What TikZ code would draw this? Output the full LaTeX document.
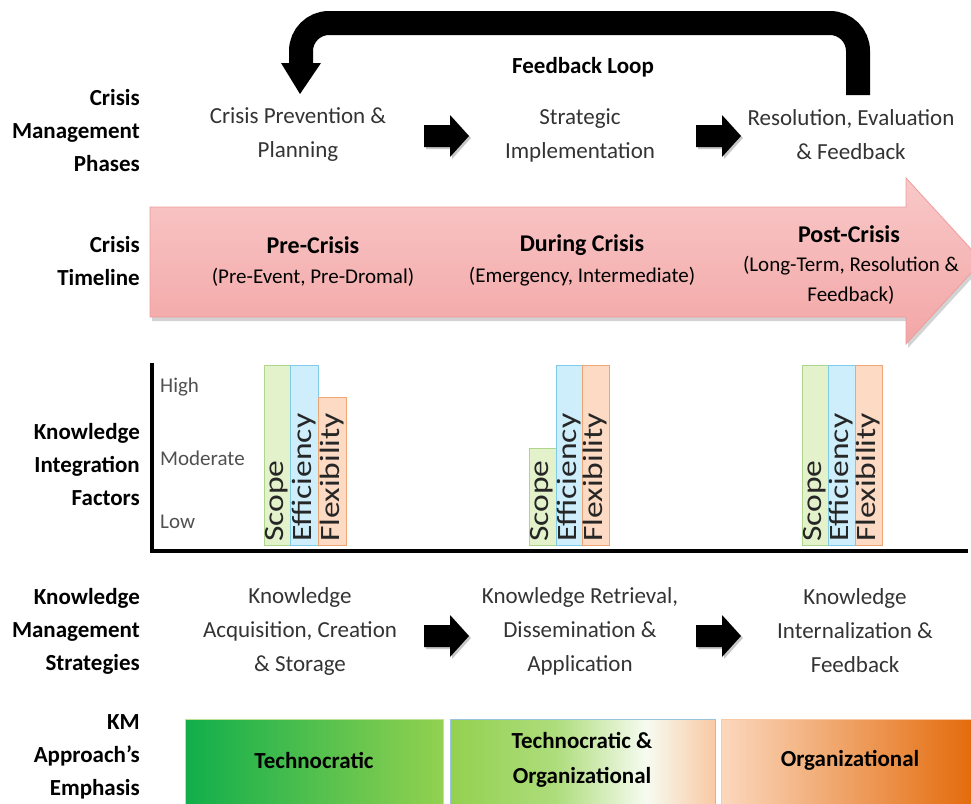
\documentclass[tikz,border=0pt]{standalone}
\usepackage{fontspec}
\setmainfont{Carlito}
\usetikzlibrary{shadows}

\definecolor{txtgray}{HTML}{333333}
\definecolor{levelgray}{HTML}{505050}
\definecolor{pinktop}{HTML}{F9C8C8}
\definecolor{pinkbot}{HTML}{F3A6A6}
\definecolor{pinkline}{HTML}{EE9C9C}
\definecolor{scopefill}{HTML}{E3F2CB}
\definecolor{scopeline}{HTML}{ADD68C}
\definecolor{efffill}{HTML}{CDEEFA}
\definecolor{effline}{HTML}{7FCBE8}
\definecolor{flexfill}{HTML}{FCDAC3}
\definecolor{flexline}{HTML}{F0A574}
\definecolor{gdark}{HTML}{10AE4B}
\definecolor{glight}{HTML}{93D150}
\definecolor{peach}{HTML}{F9C9A4}
\definecolor{peachlight}{HTML}{FBD8BE}
\definecolor{odark}{HTML}{E36A0A}
\definecolor{boxblue}{HTML}{9CC3DD}

% green -> white -> peach, for the mixed approach box
\pgfdeclarehorizontalshading{mixshade}{100bp}{%
  color(0bp)=(glight); color(25bp)=(glight); color(45bp)=(glight!75!white);
  color(62bp)=(white!92!glight); color(75bp)=(peach); color(100bp)=(peach)}

\begin{document}
\begin{tikzpicture}[x=1pt,y=-1pt,
  rowlabel/.style={anchor=east, align=right, inner sep=0,
    font=\fontsize{23}{33}\selectfont\bfseries},
  phase/.style={align=center, inner sep=0, text=txtgray,
    font=\fontsize{23}{34}\selectfont},
  timehead/.style={inner sep=0, font=\fontsize{24}{30}\selectfont\bfseries},
  timesub/.style={align=center, inner sep=0, font=\fontsize{21}{30}\selectfont},
  level/.style={anchor=west, inner sep=0, text=levelgray,
    font=\fontsize{21}{25}\selectfont},
  barlabel/.style={rotate=90, anchor=west, inner sep=0, text=black!85,
    font=\fontsize{28}{30}\selectfont},
  scopebar/.style={fill=scopefill, draw=scopeline, line width=1},
  effbar/.style={fill=efffill, draw=effline, line width=1},
  flexbar/.style={fill=flexfill, draw=flexline, line width=1},
  boxtext/.style={align=center, inner sep=0,
    font=\fontsize{23}{35}\selectfont\bfseries},
  blockarr/.pic={
    \fill[black!22] (-20,-9) -- (6,-9) -- (6,-19) -- (25,2) -- (6,23) -- (6,13) -- (-20,13) -- cycle;
    \fill[black] (-22,-11) -- (4,-11) -- (4,-21) -- (23,0) -- (4,21) -- (4,11) -- (-22,11) -- cycle;
  },
]
\useasboundingbox (0,0) rectangle (971,803);
\clip (0,0) rectangle (971,803);

% ---------- row labels ----------
\node[rowlabel] (lphase) at (140,131) {Crisis\\Management\\Phases};
\node[rowlabel] (ltime)  at (140,261) {Crisis\\Timeline};
\node[rowlabel] (lfact)  at (140,465) {Knowledge\\Integration\\Factors};
\node[rowlabel] (lstrat) at (140,631) {Knowledge\\Management\\Strategies};
\node[rowlabel] (lkm)    at (140,757) {KM\\Approach’s\\Emphasis};

% ---------- crisis management phases ----------
\node[phase] (p1) at (298,135) {Crisis Prevention \&\\Planning};
\node[phase] (p2) at (580,135) {Strategic\\Implementation};
\node[phase] (p3) at (851,135) {Resolution, Evaluation\\\& Feedback};
\pic at (446,136) {blockarr};
\pic at (718,136) {blockarr};

% feedback loop from the last phase back to the first
\coordinate (fbstart) at (858,95);
\coordinate (fbend)   at (301,66);
\draw[line width=24, rounded corners=28] (fbstart) -- (858,23) -- (301,23) -- (fbend);
\fill (281,63) -- (321,63) -- (300,94) -- cycle;
\node[font=\fontsize{23}{28}\selectfont\bfseries, inner sep=0] (fbl) at (583,67) {Feedback Loop};

% ---------- crisis timeline arrow ----------
\shade[top color=pinktop, bottom color=pinkbot, draw=pinkline, line width=0.8,
  drop shadow={opacity=0.35, shadow xshift=2pt, shadow yshift=-4pt}]
  (150,207) -- (906,207) -- (906,178) -- (982,261) -- (906,344) -- (906,317) -- (150,317) -- cycle;

\node[timehead] (pre)  at (313,245) {Pre-Crisis};
\node[timesub]  (pres) at (313,277) {(Pre-Event, Pre-Dromal)};
\node[timehead] (dur)  at (582,245) {During Crisis};
\node[timesub]  (durs) at (582,277) {(Emergency, Intermediate)};
\node[timehead] (post) at (849,234) {Post-Crisis};
\node[timesub]  (posts) at (851,280) {(Long-Term, Resolution \&\\Feedback)};

% ---------- knowledge integration factors chart ----------
\draw[line width=3.5] (152,363) -- (152,551) -- (968,551);
\node[level] (hi)  at (160,387) {High};
\node[level] (mod) at (160,458) {Moderate};
\node[level] (lo)  at (160,522) {Low};

% pre-crisis bars
\draw[scopebar] (264,365) rectangle (290,545);
\draw[effbar]   (290,365) rectangle (318,545);
\draw[flexbar]  (318,397) rectangle (346,545);
\node[barlabel] (sc1) at (277,542) {\scalebox{1.2}[1]{Scope}};
\node[barlabel] (ef1) at (304,542) {\scalebox{1.2}[1]{Efficiency}};
\node[barlabel] (fl1) at (332,542) {\scalebox{1.2}[1]{Flexibility}};

% during-crisis bars
\draw[scopebar] (529,448) rectangle (556,545);
\draw[effbar]   (556,365) rectangle (582,545);
\draw[flexbar]  (582,365) rectangle (609,545);
\node[barlabel] (sc2) at (542,542) {\scalebox{1.2}[1]{Scope}};
\node[barlabel] (ef2) at (569,542) {\scalebox{1.2}[1]{Efficiency}};
\node[barlabel] (fl2) at (595,542) {\scalebox{1.2}[1]{Flexibility}};

% post-crisis bars
\draw[scopebar] (802,365) rectangle (828,545);
\draw[effbar]   (828,365) rectangle (855,545);
\draw[flexbar]  (855,365) rectangle (882,545);
\node[barlabel] (sc3) at (815,542) {\scalebox{1.2}[1]{Scope}};
\node[barlabel] (ef3) at (841,542) {\scalebox{1.2}[1]{Efficiency}};
\node[barlabel] (fl3) at (868,542) {\scalebox{1.2}[1]{Flexibility}};

% ---------- knowledge management strategies ----------
\node[phase] (s1) at (300,631) {Knowledge\\Acquisition, Creation\\\& Storage};
\node[phase] (s2) at (580,631) {Knowledge Retrieval,\\Dissemination \&\\Application};
\node[phase] (s3) at (855,631) {Knowledge\\Internalization \&\\Feedback};
\pic at (446,636) {blockarr};
\pic at (718,636) {blockarr};

% ---------- KM approach emphasis ----------
\shade[left color=gdark, right color=glight, draw=glight!60!white, line width=0.8]
  (185,719) rectangle (443,806);
\shade[shading=mixshade, draw=boxblue, line width=1]
  (450,719) rectangle (715,806);
\shade[left color=peachlight, right color=odark, draw=peach, line width=0.8]
  (721,719) rectangle (975,806);
\node[boxtext] (b1) at (314,760) {Technocratic};
\node[boxtext] (b2) at (582,760) {Technocratic \&\\Organizational};
\node[boxtext] (b3) at (850,760) {Organizational};

\end{tikzpicture}
\end{document}
